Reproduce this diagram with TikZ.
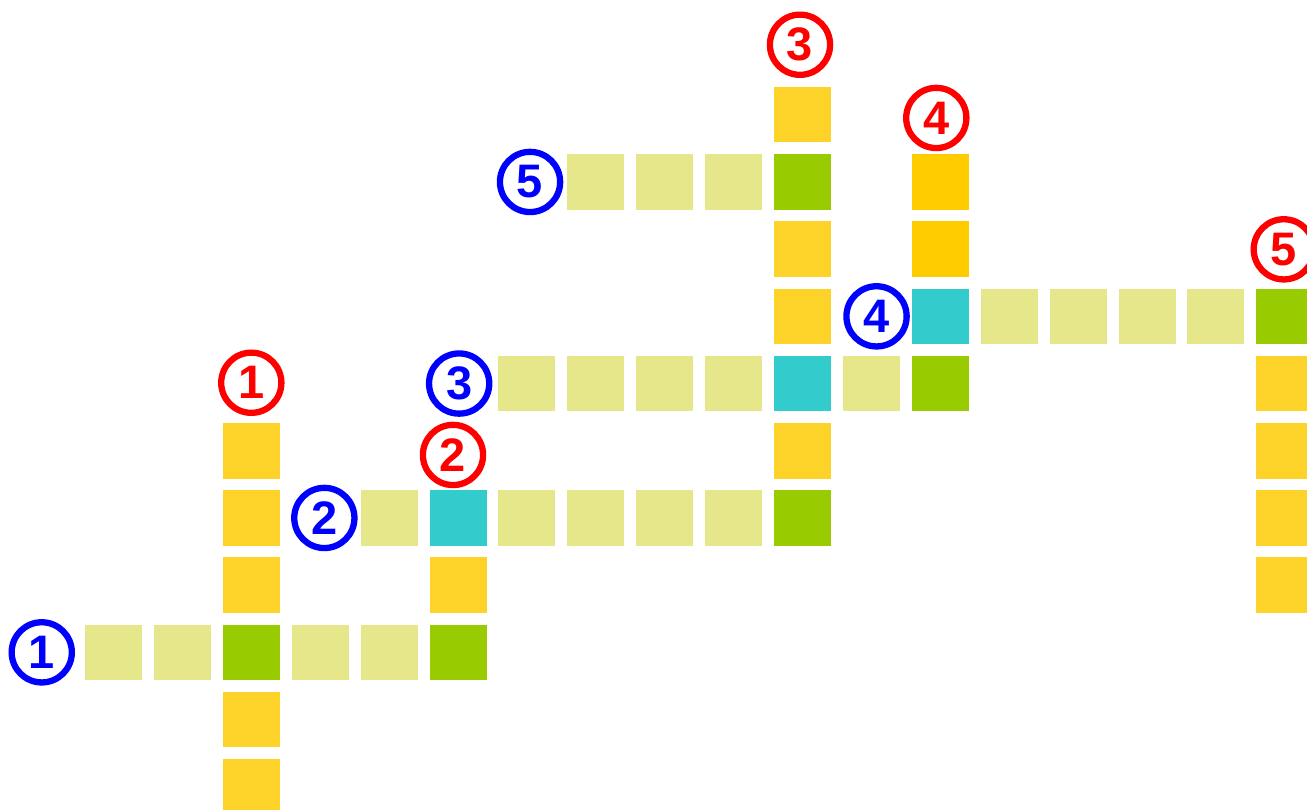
\documentclass[tikz,border=0pt]{standalone}
\usepackage{xcolor}
\usepackage{fontspec}
\usepackage{tikz}
\usetikzlibrary{positioning}
\newfontfamily\cluefont{Liberation Sans}
\definecolor{khaki}{HTML}{E6E68A}
\definecolor{sunYellow}{HTML}{FDD32A}
\definecolor{amber}{HTML}{FFCC00}
\definecolor{lime}{HTML}{99CC00}
\definecolor{teal}{HTML}{33CCCC}
\definecolor{acrossBlue}{HTML}{0000FF}
\definecolor{downRed}{HTML}{FF0000}

\begin{document}
\begin{tikzpicture}[x=1pt, y=1pt, node distance=11.7pt and 11.9pt]
    \tikzset{cell/.style={minimum width=57pt,minimum height=55.5pt,inner sep=0pt,outer sep=0pt}, plain/.style={cell,fill=khaki}, sun/.style={cell,fill=sunYellow}, amb/.style={cell,fill=amber}, cross/.style={cell,fill=lime}, meet/.style={cell,fill=teal}, clue/.style={circle,draw,line width=6.3pt,minimum size=60.2pt,inner sep=0pt,font={\fontsize{47pt}{47pt}\cluefont\bfseries}}, across/.style={clue,draw=acrossBlue,text=acrossBlue}, down/.style={clue,draw=downRed,text=downRed}}
    \useasboundingbox (0,0) rectangle (1307,-810);
    % down 3
    \node[sun] (d3a) at (802.5,-114.75) {};
    \node[cross,below=of d3a] (d3b) {};
    \node[sun,below=of d3b] (d3c) {};
    \node[sun,below=of d3c] (d3d) {};
    \node[meet,below=of d3d] (d3e) {};
    \node[sun,below=of d3e] (d3f) {};
    \node[cross,below=of d3f] (d3g) {};
    \node[down,above=9pt of d3a,xshift=-2.5pt] (n-d3) {3};
    % across 5
    \node[plain,left=of d3b] (a5c) {};
    \node[plain,left=of a5c] (a5b) {};
    \node[plain,left=of a5b] (a5a) {};
    \node[across,left=4pt of a5a] (n-a5) {5};
    % across 3
    \node[plain,left=of d3e] (a3d) {};
    \node[plain,left=of a3d] (a3c) {};
    \node[plain,left=of a3c] (a3b) {};
    \node[plain,left=of a3b] (a3a) {};
    \node[plain,right=of d3e] (a3e) {};
    \node[cross,right=of a3e] (a3f) {};
    \node[across,left=6pt of a3a] (n-a3) {3};
    % down 4
    \node[meet,above=of a3f] (d4c) {};
    \node[amb,above=of d4c] (d4b) {};
    \node[amb,above=of d4b] (d4a) {};
    \node[down,above=3pt of d4a,xshift=-4pt] (n-d4) {4};
    % across 4
    \node[plain,right=of d4c] (a4a) {};
    \node[plain,right=of a4a] (a4b) {};
    \node[plain,right=of a4b] (a4c) {};
    \node[plain,right=of a4c] (a4d) {};
    \node[cross,right=of a4d] (a4e) {};
    \node[across,left=2pt of d4c] (n-a4) {4};
    % down 5
    \node[sun,below=of a4e] (d5a) {};
    \node[sun,below=of d5a] (d5b) {};
    \node[sun,below=of d5b] (d5c) {};
    \node[sun,below=of d5c] (d5d) {};
    \node[down,above=6pt of a4e,xshift=-1pt] (n-d5) {5};
    % across 2
    \node[plain,left=of d3g] (a2f) {};
    \node[plain,left=of a2f] (a2e) {};
    \node[plain,left=of a2e] (a2d) {};
    \node[plain,left=of a2d] (a2c) {};
    \node[meet,left=of a2c] (a2b) {};
    \node[plain,left=of a2b] (a2a) {};
    \node[across,left=3pt of a2a] (n-a2) {2};
    % down 2
    \node[sun,below=of a2b] (d2a) {};
    \node[cross,below=of d2a] (d2b) {};
    \node[down,above=2pt of a2b,xshift=-5pt] (n-d2) {2};
    % across 1
    \node[plain,left=of d2b] (a1e) {};
    \node[plain,left=of a1e] (a1d) {};
    \node[cross,left=of a1d] (a1c) {};
    \node[plain,left=of a1c] (a1b) {};
    \node[plain,left=of a1b] (a1a) {};
    \node[across,left=10pt of a1a] (n-a1) {1};
    % down 1
    \node[sun,above=of a1c] (d1c) {};
    \node[sun,above=of d1c] (d1b) {};
    \node[sun,above=of d1b] (d1a) {};
    \node[sun,below=of a1c] (d1d) {};
    \node[sun,below=of d1d] (d1e) {};
    \node[down,above=7pt of d1a] (n-d1) {1};
  \end{tikzpicture}
\end{document}
